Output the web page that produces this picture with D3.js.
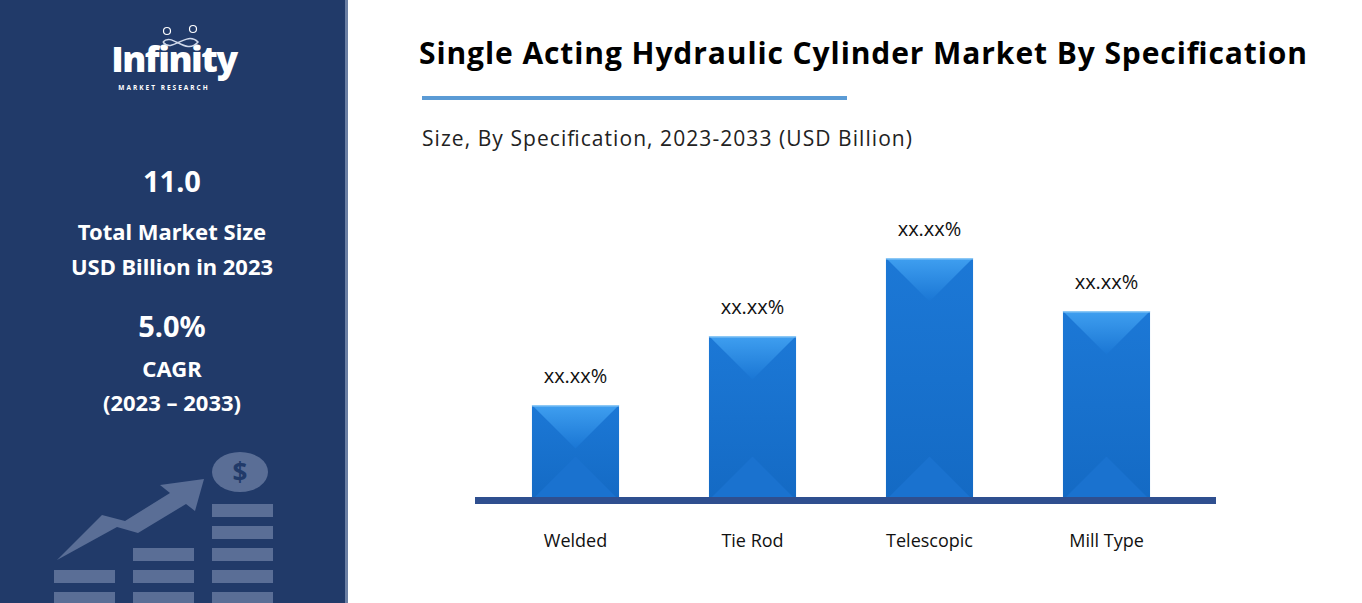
<!DOCTYPE html>
<html><head><meta charset="utf-8">
<script src="https://cdn.jsdelivr.net/npm/d3@7"></script>
<style>body{margin:0;background:#fff}svg{display:block}</style>
</head><body><div id="chart"></div>
<script>
const categories = ["Welded", "Tie Rod", "Telescopic", "Mill Type"];
const values = [1.9, 3.28, 4.84, 3.78];
const barLabels = ["xx.xx%", "xx.xx%", "xx.xx%", "xx.xx%"];
const sideStats = [["11.0", "Total Market Size", "USD Billion in 2023"], ["5.0%", "CAGR", "(2023 – 2033)"]];

const W = 1362, H = 603;
const svg = d3.select("#chart").append("svg").attr("width", W).attr("height", H)
  .style("font-family", "'Open Sans', sans-serif");
const defs = svg.append("defs");

// left panel
svg.append("rect").attr("width", 345).attr("height", H).attr("fill", "#213a69");
svg.append("rect").attr("x", 345).attr("width", 3).attr("height", H).attr("fill", "#6b7fa3");

// logo
const logo = svg.append("g").attr("fill", "#fff");
logo.append("text").attr("x", 174).attr("y", 72).attr("text-anchor", "middle")
  .attr("font-size", 36).attr("font-weight", 800).attr("letter-spacing", -1.5).text("Infinity");
logo.append("text").attr("x", 164).attr("y", 90).attr("text-anchor", "middle")
  .attr("font-size", 6.5).attr("font-weight", 700).attr("letter-spacing", 2).text("MARKET RESEARCH");
logo.selectAll("circle.h").data([[167, 31], [193, 29]]).join("circle")
  .attr("cx", d => d[0]).attr("cy", d => d[1]).attr("r", 3.5).attr("fill", "none").attr("stroke", "#fff").attr("stroke-width", 1.2);
logo.append("path").attr("d", "M163,42 C172,32 186,56 198,42 C186,30 172,54 163,42")
  .attr("fill", "none").attr("stroke", "#cfd8ea").attr("stroke-width", 1.5);

// stats
const st = svg.append("g").attr("fill", "#fff").attr("font-weight", 700).attr("text-anchor", "middle");
[[192, 29, 0, 0], [240, 22, 0, 1], [275, 22, 0, 2], [337, 29, 1, 0], [377, 22, 1, 1], [411, 22, 1, 2]]
  .forEach(([y, fs, i, j]) => st.append("text").attr("x", 172).attr("y", y).attr("font-size", fs)
    .attr("font-family", "'Noto Sans', sans-serif").text(sideStats[i][j]));

// icon
const ic = svg.append("g").attr("fill", "#5a6e96");
const rowY = [504, 526, 548, 570, 592];
[[0, [3, 4]], [1, [2, 3, 4]], [2, [0, 1, 2, 3, 4]]].forEach(([c, rows]) => {
  rows.forEach(r => ic.append("rect").attr("x", 54 + c * 79).attr("y", rowY[r]).attr("width", 61).attr("height", 13));
});
ic.append("path").attr("d", "M57,560 L102,515 L125,521 L170,493 L160,485 L204,479 L195,511 L186,504 L138,533 L117,527 Z");
ic.append("ellipse").attr("cx", 240).attr("cy", 472).attr("rx", 28).attr("ry", 20);
ic.append("text").attr("x", 240).attr("y", 482).attr("text-anchor", "middle").attr("font-size", 26)
  .attr("font-weight", 700).attr("fill", "#213a69").text("$");

// title area
svg.append("text").attr("x", 863).attr("y", 64).attr("text-anchor", "middle").attr("font-size", 30)
  .attr("font-weight", 700).attr("fill", "#000")
  .attr("textLength", 888).text("Single Acting Hydraulic Cylinder Market By Specification");
svg.append("rect").attr("x", 422).attr("y", 96).attr("width", 425).attr("height", 4).attr("fill", "#5b9bd5");
svg.append("text").attr("x", 422).attr("y", 146).attr("font-size", 21).attr("fill", "#222")
  .attr("textLength", 490).text("Size, By Specification, 2023-2033 (USD Billion)");

// chart
const x = d3.scaleBand().domain(categories).range([487, 1195]).paddingInner(0.508).paddingOuter(0.254);
const y = d3.scaleLinear().domain([0, 5]).range([500, 250]);
const data = categories.map((c, i) => ({ c, v: values[i], l: barLabels[i] }));

const gTop = defs.append("linearGradient").attr("id", "gTop").attr("x1", 0).attr("y1", 0).attr("x2", 0).attr("y2", 1);
gTop.append("stop").attr("offset", 0).attr("stop-color", "#3f9ff0");
gTop.append("stop").attr("offset", 1).attr("stop-color", "#1a76d4");
const gFace = defs.append("linearGradient").attr("id", "gFace").attr("x1", 0).attr("y1", 0).attr("x2", 0).attr("y2", 1);
gFace.append("stop").attr("offset", 0).attr("stop-color", "#1c78d6");
gFace.append("stop").attr("offset", 1).attr("stop-color", "#146ac4");

const bars = svg.append("g").selectAll("g").data(data).join("g");
bars.each(function(d) {
  const g = d3.select(this);
  const x0 = x(d.c), x1 = x0 + x.bandwidth(), y0 = y(d.v), y1 = y(0);
  const b = x.bandwidth() / 2, h = y1 - y0;
  const m = Math.min(b, h / 2);
  g.append("rect").attr("x", x0).attr("y", y0).attr("width", x.bandwidth()).attr("height", h).attr("fill", "url(#gFace)");
  g.append("path").attr("d", `M${x0},${y0} L${x1},${y0} L${x1 - m},${y0 + m} L${x0 + m},${y0 + m} Z`).attr("fill", "url(#gTop)");
  g.append("path").attr("d", `M${x0},${y1} L${x0 + m},${y1 - m} L${x1 - m},${y1 - m} L${x1},${y1} Z`).attr("fill", "#1a72cf");
  g.append("rect").attr("x", x0).attr("y", y0).attr("width", x.bandwidth()).attr("height", 1.5).attr("fill", "#8cc8f5");
  g.append("text").attr("x", x0 + b).attr("y", y0 - 22).attr("text-anchor", "middle")
    .attr("font-size", 20).attr("fill", "#111").text(d.l);
});

svg.append("rect").attr("x", 475).attr("y", 497).attr("width", 741).attr("height", 7).attr("fill", "#2f4f8f");

const ax = svg.append("g").attr("transform", "translate(0,504)").call(d3.axisBottom(x).tickSize(0).tickPadding(30));
ax.select(".domain").remove();
ax.selectAll("text").attr("font-size", 18).attr("fill", "#111").attr("font-family", "'Open Sans', sans-serif");
</script></body></html>
